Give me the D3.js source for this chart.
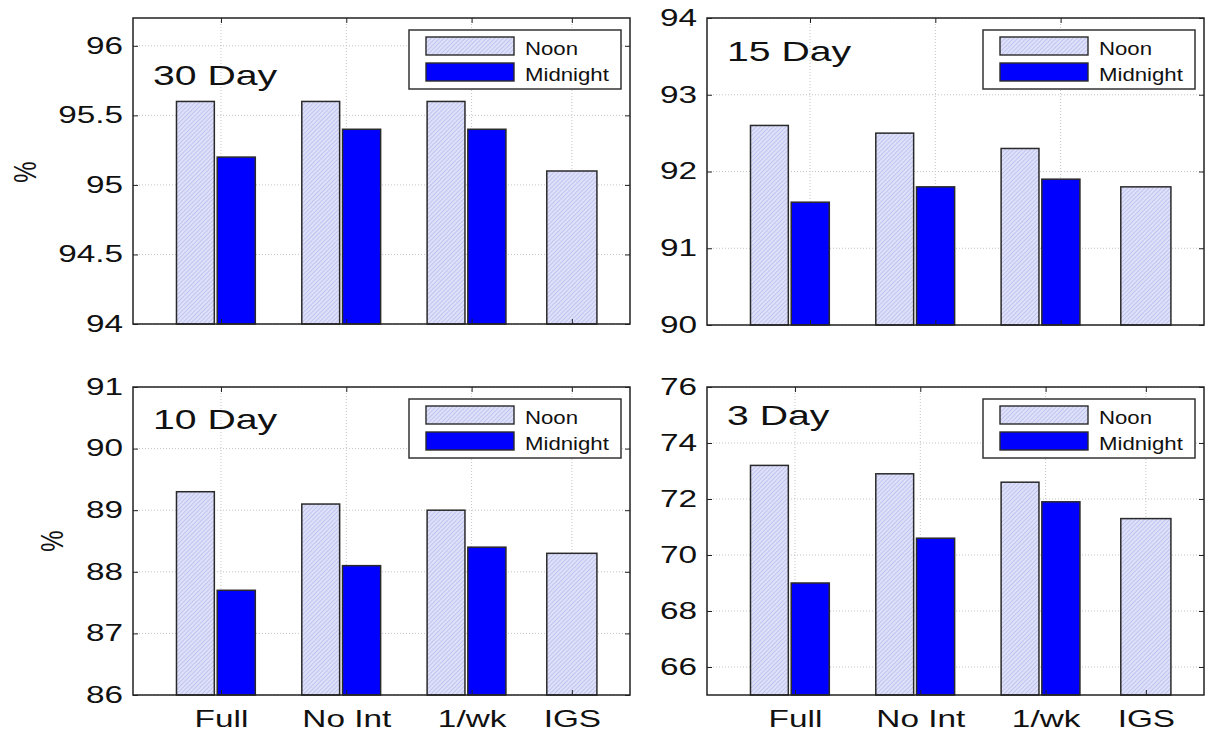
<!DOCTYPE html>
<html>
<head>
<meta charset="utf-8">
<script src="https://cdn.jsdelivr.net/npm/d3@7"></script>
<style>
  body { margin: 0; background: #fff; }
  text { font-family: "Liberation Sans", Arial, sans-serif; fill: #111; }
</style>
</head>
<body>
<div id="chart"></div>
<script>
// values
var categories = ["Full", "No Int", "1/wk", "IGS"];
var series = ["Noon", "Midnight"];
var titles = ["30 Day", "15 Day", "10 Day", "3 Day"];

var noon30 = [95.6, 95.6, 95.6, 95.1];
var midnight30 = [95.2, 95.4, 95.4];
var noon15 = [92.6, 92.5, 92.3, 91.8];
var midnight15 = [91.6, 91.8, 91.9];
var noon10 = [89.3, 89.1, 89.0, 88.3];
var midnight10 = [87.7, 88.1, 88.4];
var noon3 = [73.2, 72.9, 72.6, 71.3];
var midnight3 = [69.0, 70.6, 71.9];

var yTicks30 = [94, 94.5, 95, 95.5, 96];
var yTicks15 = [90, 91, 92, 93, 94];
var yTicks10 = [86, 87, 88, 89, 90, 91];
var yTicks3 = [66, 68, 70, 72, 74, 76];

var width = 1207, height = 733;
var panelW = 497;
var sx = 1.45; // the reference text is stretched sideways

var svg = d3.select('#chart').append('svg')
    .attr('width', width)
    .attr('height', height);

var defs = svg.append('defs');
var pat = defs.append('pattern')
    .attr('id', 'hatch')
    .attr('patternUnits', 'userSpaceOnUse')
    .attr('width', 3).attr('height', 3)
    .attr('patternTransform', 'rotate(45)');
pat.append('rect').attr('width', 3).attr('height', 3).attr('fill', '#dfe1f9');
pat.append('line').attr('x1', 0).attr('y1', 0).attr('x2', 0).attr('y2', 3)
    .attr('stroke', '#a2a7e8').attr('stroke-width', 1);

var panels = [
  {title: titles[0], noon: noon30, mid: midnight30, dom: [94, 96.2], yt: yTicks30,
   left: 133, top: 18, bottom: 324, titleY: 85, xt: [1, 2, 3, 3.8], labels: false, pct: [25, 172]},
  {title: titles[1], noon: noon15, mid: midnight15, dom: [90, 94], yt: yTicks15,
   left: 707, top: 18, bottom: 325, titleY: 61, xt: [1.12, 2.12, 3.12], labels: false, pct: null},
  {title: titles[2], noon: noon10, mid: midnight10, dom: [86, 91], yt: yTicks10,
   left: 133, top: 387, bottom: 695, titleY: 429, xt: [1, 2, 3, 3.8], labels: true, pct: [52, 541]},
  {title: titles[3], noon: noon3, mid: midnight3, dom: [65, 76], yt: yTicks3,
   left: 707, top: 387, bottom: 695, titleY: 425, xt: [1, 2, 3, 3.8], labels: true, pct: null}
];

var groupPos = [1, 2, 3, 3.8];
var fmt = d3.format('~g');

panels.forEach(function(p) {
  var L = p.left, R = p.left + panelW;
  var x = d3.scaleLinear().domain([0.298, 4.264]).range([L, R]);
  var y = d3.scaleLinear().domain(p.dom).range([p.bottom, p.top]);
  var g = svg.append('g');

  // dotted grid
  g.selectAll('.gy').data(p.yt).enter().append('line')
      .attr('x1', L).attr('x2', R)
      .attr('y1', function(d) { return y(d); })
      .attr('y2', function(d) { return y(d); })
      .attr('stroke', '#c4c4c4').attr('stroke-dasharray', '1,2');
  g.selectAll('.gx').data(p.xt).enter().append('line')
      .attr('y1', p.top).attr('y2', p.bottom)
      .attr('x1', function(d) { return x(d); })
      .attr('x2', function(d) { return x(d); })
      .attr('stroke', '#c4c4c4').attr('stroke-dasharray', '1,2');

  // bars
  var bars = [];
  p.noon.forEach(function(v, i) {
    if (i < 3) bars.push({x0: groupPos[i] - 0.355, x1: groupPos[i] - 0.053, v: v, s: 0});
    else bars.push({x0: groupPos[i] - 0.2, x1: groupPos[i] + 0.2, v: v, s: 0});
  });
  p.mid.forEach(function(v, i) {
    bars.push({x0: groupPos[i] - 0.03, x1: groupPos[i] + 0.274, v: v, s: 1});
  });
  g.selectAll('rect.bar').data(bars).enter().append('rect')
      .attr('class', 'bar')
      .attr('x', function(d) { return x(d.x0); })
      .attr('width', function(d) { return x(d.x1) - x(d.x0); })
      .attr('y', function(d) { return y(d.v); })
      .attr('height', function(d) { return p.bottom - y(d.v); })
      .attr('fill', function(d) { return d.s === 0 ? 'url(#hatch)' : '#0000ff'; })
      .attr('stroke', '#2a2a2a').attr('stroke-width', 1.5);

  // axes, ticks pointing inward
  var ax = g.append('g').attr('transform', 'translate(' + L + ',0)')
      .call(d3.axisLeft(y).tickValues(p.yt).tickSize(-5).tickSizeOuter(0)
        .tickPadding(10).tickFormat(fmt));
  ax.select('.domain').remove();
  ax.selectAll('text')
      .attr('x', -10 / sx)
      .attr('transform', 'scale(' + sx + ',1)')
      .style('font-size', '23px')
      .style('font-family', '"Liberation Sans", Arial, sans-serif');

  var ar = g.append('g').attr('transform', 'translate(' + R + ',0)')
      .call(d3.axisRight(y).tickValues(p.yt).tickSize(-5).tickSizeOuter(0).tickFormat(''));
  ar.select('.domain').remove();

  var at = g.append('g').attr('transform', 'translate(0,' + p.top + ')')
      .call(d3.axisTop(x).tickValues(p.xt).tickSize(-5).tickSizeOuter(0).tickFormat(''));
  at.select('.domain').remove();

  var ab = g.append('g').attr('transform', 'translate(0,' + p.bottom + ')')
      .call(d3.axisBottom(x).tickValues(p.xt).tickSize(-5).tickSizeOuter(0)
        .tickFormat(function(d, i) { return p.labels ? categories[i] : ''; }));
  ab.select('.domain').remove();
  ab.selectAll('text')
      .attr('y', 0).attr('dy', 0)
      .attr('transform', 'translate(0,32) scale(' + sx + ',1)')
      .style('font-size', '23px')
      .style('font-family', '"Liberation Sans", Arial, sans-serif');
  g.selectAll('.tick line').attr('stroke', '#222');

  // frame
  g.append('rect')
      .attr('x', L).attr('y', p.top)
      .attr('width', panelW).attr('height', p.bottom - p.top)
      .attr('fill', 'none').attr('stroke', '#222').attr('stroke-width', 1.5);

  // panel title
  g.append('text')
      .attr('transform', 'translate(' + (L + 20) + ',' + p.titleY + ') scale(1.4,1)')
      .style('font-size', '28px')
      .text(p.title);

  // legend
  var lg = g.append('g').attr('transform', 'translate(' + (L + 276) + ',' + (p.top + 12) + ')');
  lg.append('rect').attr('width', 212).attr('height', 59)
      .attr('fill', '#fff').attr('stroke', '#333').attr('stroke-width', 1.5);
  series.forEach(function(s, i) {
    lg.append('rect')
        .attr('x', 17).attr('y', 7 + i * 26)
        .attr('width', 88).attr('height', 18)
        .attr('fill', i === 0 ? 'url(#hatch)' : '#0000ff')
        .attr('stroke', '#2a2a2a').attr('stroke-width', 1.4);
    lg.append('text')
        .attr('transform', 'translate(116,' + (25 + i * 26) + ') scale(1.2,1)')
        .style('font-size', '18.5px')
        .text(s);
  });

  if (p.pct) {
    svg.append('text')
        .attr('transform', 'translate(' + p.pct[0] + ',' + p.pct[1] + ') rotate(-90) scale(1,1.3)')
        .attr('text-anchor', 'middle')
        .attr('dy', '0.35em')
        .style('font-size', '24px')
        .text('%');
  }
});
</script>
</body>
</html>
